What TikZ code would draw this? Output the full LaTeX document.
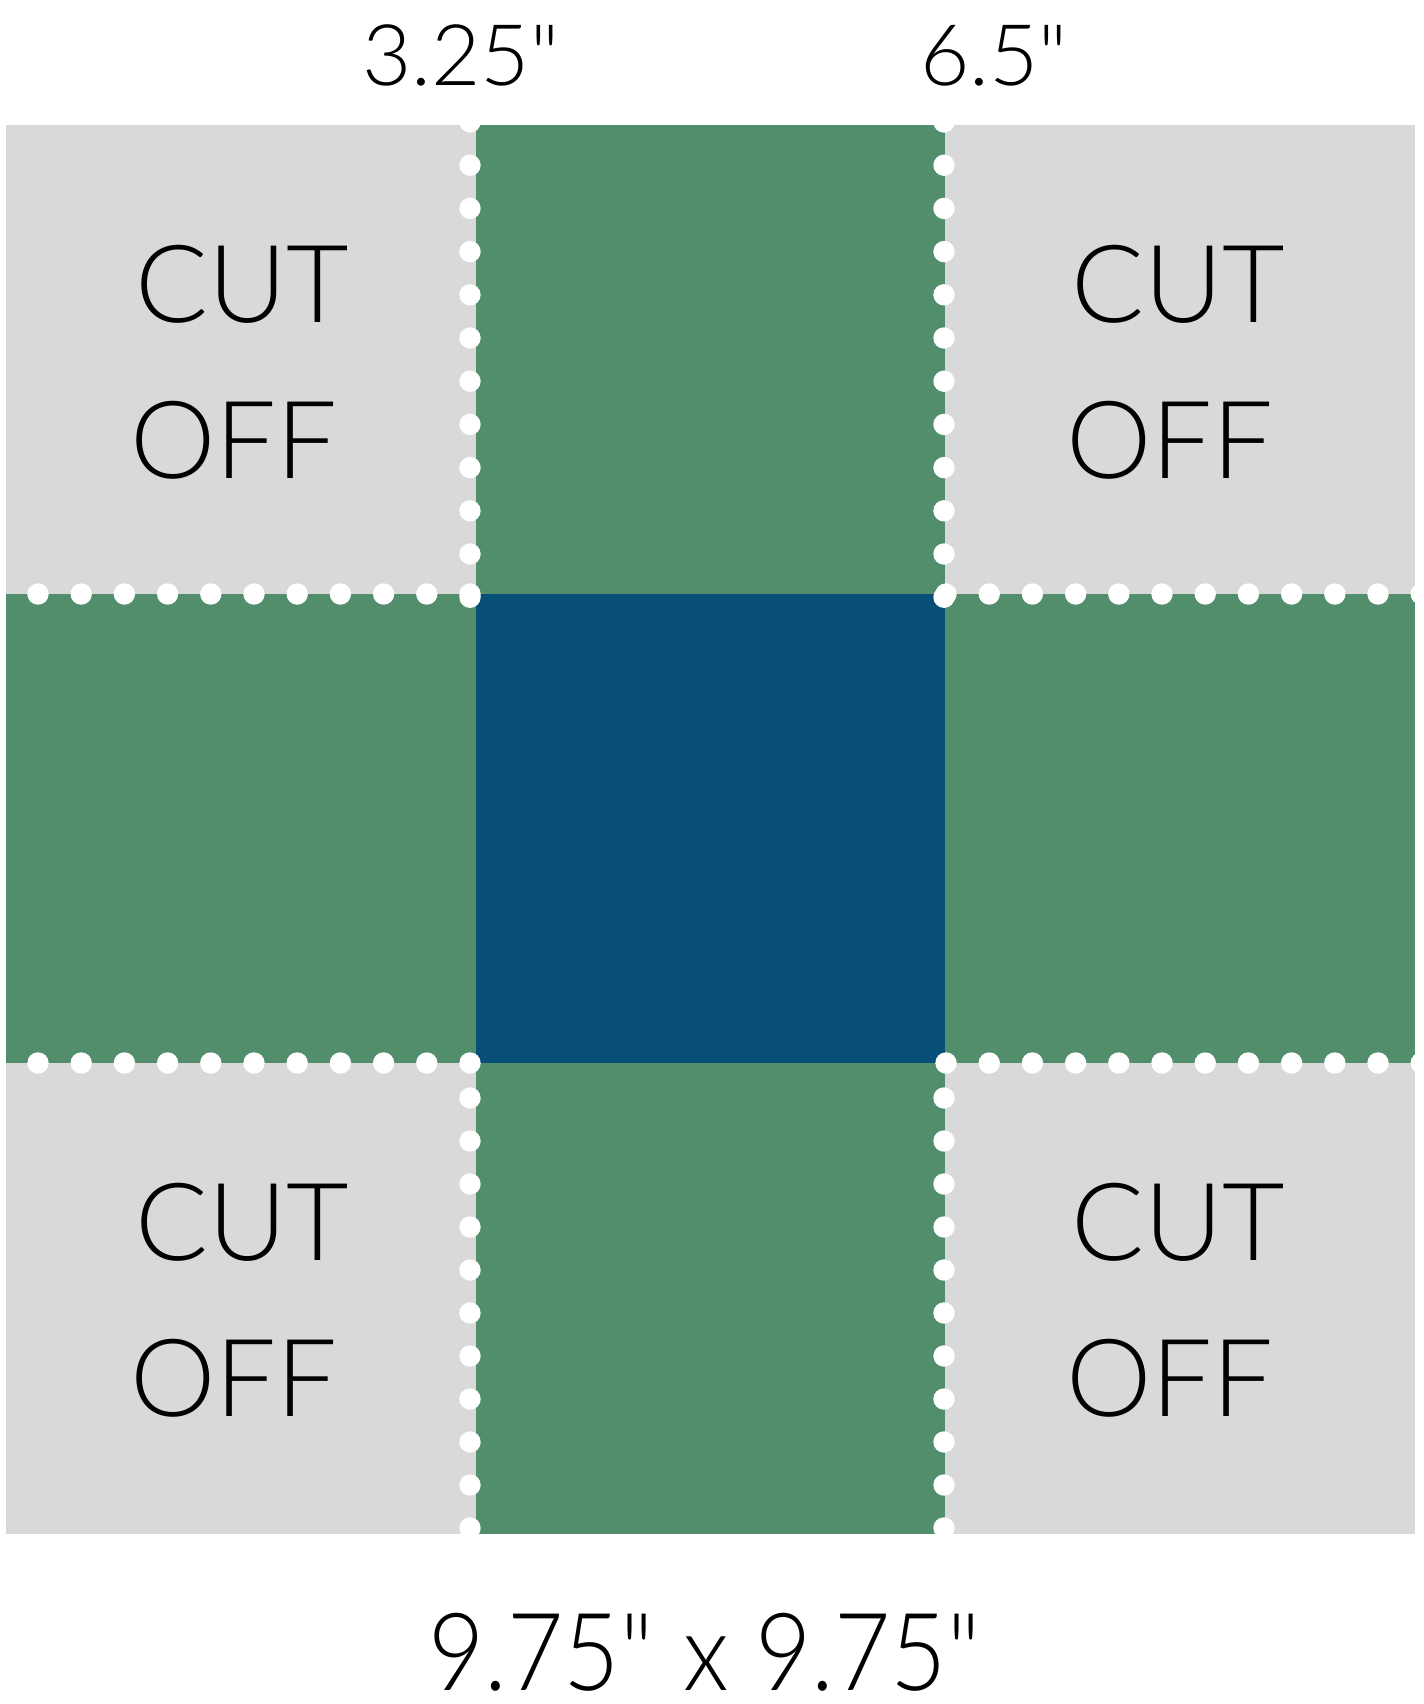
\documentclass[tikz,border=0pt]{standalone}
\usepackage{fontspec}
\IfFontExistsTF{Lato Light}{\setmainfont{Lato Light}}{\setmainfont{Lato}}
\usepackage{xcolor}
\usepackage{tikz}

\definecolor{cutgray}{HTML}{D9D9D9}
\definecolor{flapgreen}{HTML}{528E6C}
\definecolor{basenavy}{HTML}{084F77}
\newcommand{\inch}{\textquotedbl}

\begin{document}
\begin{tikzpicture}[
    x=0.5pt, y=-0.5pt,
    cell/.style={draw=none},
    perf/.style={fill=white},
    cutlbl/.style={anchor=base west, inner sep=0pt, font=\fontsize{54}{60}\selectfont},
    dimlbl/.style={anchor=base west, inner sep=0pt, font=\fontsize{42.5}{48}\selectfont},
    sizelbl/.style={anchor=base, inner sep=0pt, font=\fontsize{54}{60}\selectfont\addfontfeature{FakeStretch=0.9}}
]
    \useasboundingbox (0,0) rectangle (1424,1704);

    % corner pieces
    \fill[cell, cutgray] (6,125) rectangle (476,594);
    \fill[cell, cutgray] (945,125) rectangle (1415,594);
    \fill[cell, cutgray] (6,1063) rectangle (476,1534);
    \fill[cell, cutgray] (945,1063) rectangle (1415,1534);
    % flaps and base
    \fill[cell, flapgreen] (476,125) rectangle (945,594);
    \fill[cell, flapgreen] (6,594) rectangle (476,1063);
    \fill[cell, flapgreen] (945,594) rectangle (1415,1063);
    \fill[cell, flapgreen] (476,1063) rectangle (945,1534);
    \fill[cell, basenavy] (476,594) rectangle (945,1063);

    % fold lines
    \begin{scope}
        \clip (6,125) rectangle (1415,1534);
        \foreach \k in {0,...,11} {
            \fill[perf] (470,122+43.2*\k) circle (5.35pt);
            \fill[perf] (944,122+43.2*\k) circle (5.35pt);
            \fill[perf] (946+43.2*\k,594) circle (5.35pt);
            \fill[perf] (946+43.2*\k,1063) circle (5.35pt);
        }
        \foreach \k in {0,...,10} {
            \fill[perf] (470-43.2*\k,594) circle (5.35pt);
            \fill[perf] (470-43.2*\k,1063) circle (5.35pt);
            \fill[perf] (470,1098+43*\k) circle (5.35pt);
            \fill[perf] (944,1098+43*\k) circle (5.35pt);
        }
    \end{scope}

    \node[cutlbl] (cutTL) at (135,322) {CUT};
    \node[cutlbl] (offTL) at (130,478) {OFF};
    \node[cutlbl] (cutTR) at (1071,322) {CUT};
    \node[cutlbl] (offTR) at (1066,478) {OFF};
    \node[cutlbl] (cutBL) at (135,1260) {CUT};
    \node[cutlbl] (offBL) at (130,1416) {OFF};
    \node[cutlbl] (cutBR) at (1071,1260) {CUT};
    \node[cutlbl] (offBR) at (1066,1416) {OFF};

    \node[dimlbl] (dimA) at (362,85) {3.25\inch};
    \node[dimlbl] (dimB) at (920,85) {6.5\inch};
    \node[sizelbl] (size) at (706,1690) {9.75\inch{} x 9.75\inch};
\end{tikzpicture}
\end{document}
